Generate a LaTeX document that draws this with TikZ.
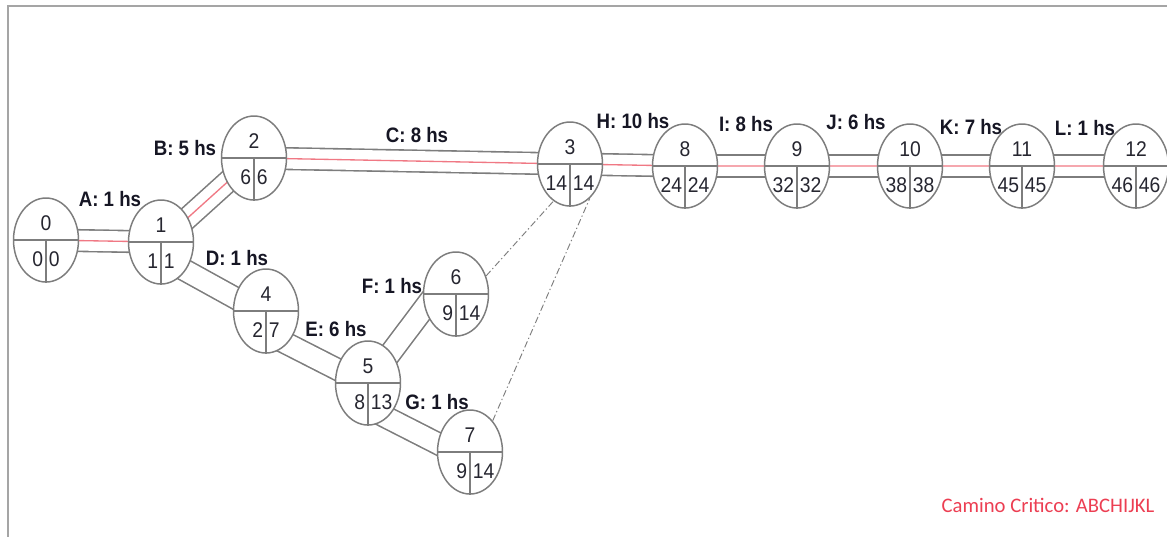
\documentclass[tikz,border=0pt]{standalone}
\usepackage{fontspec}
\setmainfont{Liberation Sans}
\newfontfamily\carlitofont{Carlito}
\usetikzlibrary{shapes.geometric,backgrounds,calc}
\definecolor{edgegray}{RGB}{125,125,125}
\definecolor{framegray}{RGB}{165,165,165}
\definecolor{critred}{RGB}{240,120,132}
\definecolor{txt}{RGB}{22,22,36}
\definecolor{numc}{RGB}{38,38,48}
\definecolor{notered}{RGB}{236,62,82}
\newcommand\talltxt[2]{\scalebox{1}[#1]{#2}}
\newcommand\pertev[5]{%
  \node[ev] (#1) at (#2) {};
  \draw[div] (#1.west) -- (#1.east);
  \draw[div] (#1.center) -- (#1.south);
  \node[num] (#1t) at ($(#1.center)+(0,-17)$) {\talltxt{1.1}{#3}};
  \node[num, anchor=east] (#1l) at ($(#1.center)+(-2.5,19)$) {\talltxt{1.1}{#4}};
  \node[num, anchor=west] (#1r) at ($(#1.center)+(2.5,19)$) {\talltxt{1.1}{#5}};
}
\begin{document}
\begin{tikzpicture}[x=0.75pt,y=-0.75pt,
  ev/.style={ellipse, draw=edgegray, line width=1.1pt, fill=white,
    minimum width=48.75pt, minimum height=63pt, inner sep=0pt},
  div/.style={draw=edgegray, line width=1.1pt},
  num/.style={font=\fontsize{14.5pt}{15pt}\selectfont, text=numc, inner sep=0pt},
  lbl/.style={font=\bfseries\fontsize{14pt}{15pt}\selectfont, text=txt, inner sep=0pt},
  act/.style={draw=edgegray, line width=1.2pt, double=white, double distance=15pt},
  crit/.style={draw=critred, line width=1pt},
  dummy/.style={draw=edgegray, line width=0.7pt, dash pattern=on 5pt off 2pt on 1pt off 2pt}]
\useasboundingbox (0,0) rectangle (1167,536);
\draw[framegray, line width=1.5pt] (8,540) -- (8,6) -- (1170,6);

% events
\pertev{n0}{46,240}{0}{0}{0}
\pertev{n1}{161,242}{1}{1}{1}
\pertev{n2}{254,158}{2}{6}{6}
\pertev{n3}{570,164}{3}{14}{14}
\pertev{n4}{266,311}{4}{2}{7}
\pertev{n5}{368,383}{5}{8}{13}
\pertev{n6}{456,294}{6}{9}{14}
\pertev{n7}{470,452}{7}{9}{14}
\pertev{n8}{685,166}{8}{24}{24}
\pertev{n9}{797,166}{9}{32}{32}
\pertev{n10}{910,166}{10}{38}{38}
\pertev{n11}{1022,166}{11}{45}{45}
\pertev{n12}{1136,166}{12}{46}{46}

\begin{pgfonlayer}{background}
  \draw[act] (n0.center) -- (n1.center);
  \draw[act] (n1.center) -- (n2.center);
  \draw[act] (n2.center) -- (n3.center);
  \draw[act] (n3.center) -- (n8.center);
  \draw[act] (n8.center) -- (n9.center);
  \draw[act] (n9.center) -- (n10.center);
  \draw[act] (n10.center) -- (n11.center);
  \draw[act] (n11.center) -- (n12.center);
  \draw[act] ($(n1.center)+(0,15)$) -- ($(n4.center)+(0,4)$);
  \draw[act] ($(n4.center)+(0,22)$) -- ($(n5.center)+(0,2)$);
  \draw[act] (n5.center) -- ($(n6.center)+(0,-28)$);
  \draw[act] ($(n5.center)+(0,25)$) -- ($(n7.center)+(0,8)$);
  \draw[crit] (n0.center) -- (n1.center) -- (n2.center) -- (n3.center) -- (n8.center)
    -- (n9.center) -- (n10.center) -- (n11.center) -- (n12.center);
\end{pgfonlayer}
\draw[dummy] (n6.31) -- (n3.246);
\draw[dummy] (n7.54) -- (n3.300);

% activity labels
\node[lbl] (la) at (110,199) {\talltxt{1.12}{A: 1 hs}};
\node[lbl] (lb) at (185,148) {\talltxt{1.12}{B: 5 hs}};
\node[lbl] (lc) at (417,135) {\talltxt{1.12}{C: 8 hs}};
\node[lbl] (ld) at (237,258) {\talltxt{1.12}{D: 1 hs}};
\node[lbl] (le) at (336,329) {\talltxt{1.12}{E: 6 hs}};
\node[lbl] (lf) at (392,286) {\talltxt{1.12}{F: 1 hs}};
\node[lbl] (lg) at (437,402) {\talltxt{1.12}{G: 1 hs}};
\node[lbl] (lh) at (633,121) {\talltxt{1.12}{H: 10 hs}};
\node[lbl] (li) at (746,124) {\talltxt{1.12}{I: 8 hs}};
\node[lbl] (lj) at (856,122) {\talltxt{1.12}{J: 6 hs}};
\node[lbl] (lk) at (971,127) {\talltxt{1.12}{K: 7 hs}};
\node[lbl] (ll) at (1085,128) {\talltxt{1.12}{L: 1 hs}};

\node[font=\carlitofont\fontsize{15.5pt}{16pt}\selectfont, text=notered, inner sep=0pt]
  (note) at (1048,505) {Camino Critico: ABCHIJKL};
\end{tikzpicture}
\end{document}
